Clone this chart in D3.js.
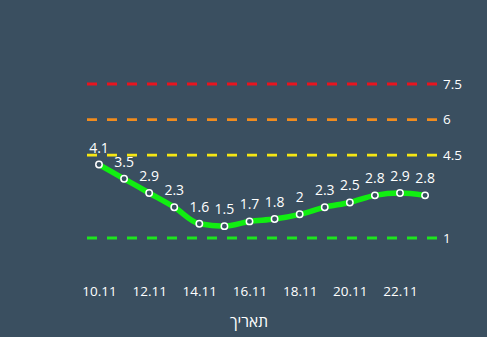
<!DOCTYPE html>
<html><head><meta charset="utf-8">
<script src="https://cdn.jsdelivr.net/npm/d3@7"></script>
<style>
html,body{margin:0;padding:0;background:#3a4f60;}
svg{display:block;font-family:"Open Sans","Noto Sans",sans-serif;}
</style></head><body>
<svg id="c" width="487" height="337"></svg>
<script>
const days = [10,11,12,13,14,15,16,17,18,19,20,21,22,23];
const values = [4.1,3.5,2.9,2.3,1.6,1.5,1.7,1.8,2,2.3,2.5,2.8,2.9,2.8];
const tickDays = [10,12,14,16,18,20,22];
const tickLabels = ["10.11","12.11","14.11","16.11","18.11","20.11","22.11"];
const thresholds = [7.5,6,4.5,1];
const thresholdColors = ["#e8141e","#f08c1e","#f5e614","#1ee61e"];
const xTitle = "תאריך";

const svg = d3.select("#c");
const x = d3.scaleLinear().domain([10,22]).range([99,400]);
const y = d3.scaleLinear().domain([1,7.5]).range([238,84]);

svg.selectAll("line.th").data(thresholds).join("line")
  .attr("x1",87).attr("x2",437)
  .attr("y1",d=>y(d)).attr("y2",d=>y(d))
  .attr("stroke",(d,i)=>thresholdColors[i]).attr("stroke-width",2.8)
  .attr("stroke-dasharray","10,10");
svg.selectAll("text.th").data(thresholds).join("text")
  .attr("x",443).attr("y",d=>y(d)).attr("dy","0.35em")
  .attr("fill","#ffffff").attr("font-size",13.5).text(d=>d);

const line = d3.line().x((d,i)=>x(days[i])).y(d=>y(d)).curve(d3.curveMonotoneX);
svg.append("path").datum(values).attr("d",line)
  .attr("fill","none").attr("stroke","#11ee11").attr("stroke-width",5.5)
  .attr("stroke-linejoin","round").attr("stroke-linecap","round");
svg.selectAll("circle").data(values).join("circle")
  .attr("cx",(d,i)=>x(days[i])).attr("cy",d=>y(d)).attr("r",3.2)
  .attr("fill","#3a4f60").attr("stroke","#ffffff").attr("stroke-width",1.5);
svg.selectAll("text.v").data(values).join("text")
  .attr("x",(d,i)=>x(days[i])).attr("y",d=>y(d)-12)
  .attr("text-anchor","middle").attr("fill","#ffffff").attr("font-size",14)
  .text(d=>d);

const ax = svg.append("g").attr("transform","translate(0,283)")
  .call(d3.axisBottom(x).tickValues(tickDays).tickFormat((d,i)=>tickLabels[i]).tickSize(0).tickPadding(3));
ax.select(".domain").remove();
ax.selectAll("text").attr("fill","#ffffff").attr("font-size",13.5).attr("font-family","'Open Sans','Noto Sans',sans-serif");

svg.append("text").attr("x",249).attr("y",327).attr("text-anchor","middle")
  .attr("fill","#ffffff").attr("font-size",15.5).text(xTitle);
</script>
</body></html>
